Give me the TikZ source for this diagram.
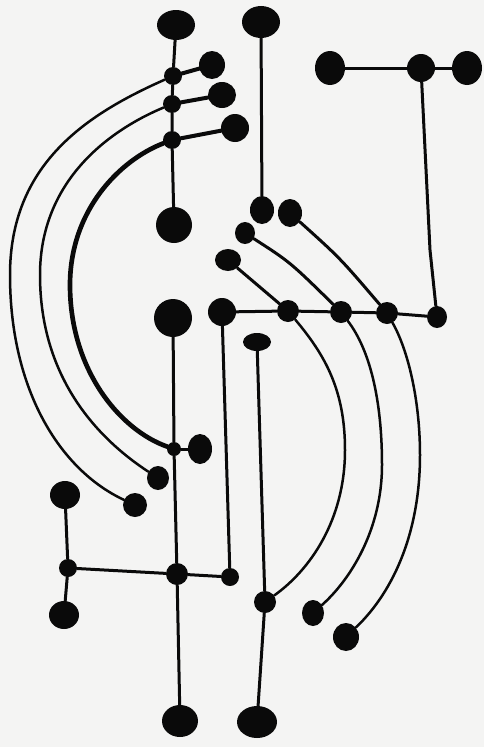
\documentclass[tikz,border=0pt]{standalone}
\usepackage{tikz}
\usetikzlibrary{shapes.geometric, calc}

\definecolor{paper}{HTML}{F4F4F3}
\definecolor{ink}{HTML}{0A0A0A}

\tikzset{
  blob/.style 2 args = {ellipse, fill=ink, draw=none, inner sep=0pt,
                        minimum width=#1mm, minimum height=#2mm},
  knot/.style  = {circle, fill=ink, draw=none, inner sep=0pt,
                  minimum size=#1mm},
  wire/.style  = {draw=ink, line width=0.9mm, line cap=round},
  stem/.style  = {draw=ink, line width=1.2mm, line cap=round},
  arc/.style   = {draw=ink, line width=0.75mm, line cap=round},
  arcb/.style  = {draw=ink, line width=1.4mm, line cap=round},
}

\begin{document}
\begin{tikzpicture}[x=0.3mm, y=-0.3mm]

% ────────────────────────────────────────────────────────────
%  Coordinates are in pixels of the 484 x 747 sheet,
%  origin top left, y running downwards.
% ────────────────────────────────────────────────────────────
\fill[paper] (0,0) rectangle (484,747);
\useasboundingbox (0,0) rectangle (484,747);

% ═══════════════════════════════════════════════════════════
%  TOP LEFT STEM  (x ~ 173)
% ═══════════════════════════════════════════════════════════
\node[blob={11.4}{9}]    (tl-top) at (176, 25)  {};
\node[knot=5.4]          (tl-j1)  at (173, 76)  {};
\node[knot=5.4]          (tl-j2)  at (172, 104) {};
\node[knot=5.4]          (tl-j3)  at (172, 140) {};
\node[blob={10.8}{10.8}] (tl-bot) at (174, 225) {};
\node[blob={7.8}{8.4}]   (tl-b1)  at (212, 65)  {};
\node[blob={8.4}{7.8}]   (tl-b2)  at (222, 95)  {};
\node[blob={8.4}{8.4}]   (tl-b3)  at (235, 128) {};

\draw[wire] (tl-top) -- (tl-j1) -- (tl-j2) -- (tl-j3) -- (tl-bot);
\draw[stem] (tl-j1) -- (tl-b1);
\draw[stem] (tl-j2) -- (tl-b2);
\draw[stem] (tl-j3) -- (tl-b3);

% ═══════════════════════════════════════════════════════════
%  SECOND STEM  (x ~ 260)  and the three loose blobs
% ═══════════════════════════════════════════════════════════
\node[blob={11.4}{9.6}] (st-top) at (261, 22)  {};
\node[blob={7.2}{8.4}]  (st-bot) at (262, 210) {};
\node[blob={7.2}{8.4}]  (lb-1)   at (290, 213) {};
\node[blob={6}{6.6}]    (lb-2)   at (245, 233) {};
\node[blob={7.8}{6.6}]  (lb-3)   at (228, 260) {};

\draw[wire] (st-top) -- (st-bot);

% ═══════════════════════════════════════════════════════════
%  TOP RIGHT BAR  and the long horizontal rail
% ═══════════════════════════════════════════════════════════
\node[blob={9}{10.2}]  (tr-l)   at (330, 68)  {};
\node[knot=8.4]        (tr-m)   at (421, 68)  {};
\node[blob={9}{10.2}]  (tr-r)   at (467, 68)  {};

\node[blob={8.4}{8.4}] (rl-0)   at (222, 312) {};
\node[knot=6.6]        (rl-k1)  at (288, 311) {};
\node[knot=6.6]        (rl-k2)  at (341, 312) {};
\node[knot=6.6]        (rl-k3)  at (387, 313) {};
\node[blob={6}{6.6}]   (rl-end) at (437, 317) {};

\draw[wire] (tr-l) -- (tr-m) -- (tr-r);
\draw[wire] (tr-m) -- (430, 250) -- (rl-end);
\draw[wire] (rl-0) -- (rl-k1) -- (rl-k2) -- (rl-k3) -- (rl-end);

% loose blobs down to the rail
\draw[wire] (lb-3) -- (rl-k1);
\draw[wire] (lb-2) .. controls (290, 262) .. (rl-k2);
\draw[wire] (lb-1) .. controls (340, 258) .. (rl-k3);

% ═══════════════════════════════════════════════════════════
%  LOWER STEMS
% ═══════════════════════════════════════════════════════════
\node[blob={11.4}{11.4}] (ls-top) at (173, 318) {};
\node[knot=4.2]          (ls-j1)  at (174, 449) {};
\node[blob={7.2}{9}]     (ls-b1)  at (200, 449) {};
\node[knot=6.6]          (ls-j2)  at (177, 574) {};
\node[blob={10.8}{9.6}]  (ls-bot) at (180, 721) {};

\node[knot=5.4]          (rl-foot) at (230, 577) {};

\node[blob={8.4}{5.4}]   (rs-top) at (257, 342) {};
\node[knot=6.6]          (rs-j)   at (265, 602) {};
\node[blob={12}{9.6}]    (rs-bot) at (257, 722) {};

\draw[wire] (ls-top) -- (ls-j1) -- (ls-j2) -- (ls-bot);
\draw[wire] (ls-j1) -- (ls-b1);
\draw[wire] (rl-0) -- (rl-foot);
\draw[wire] (rs-top) -- (rs-j) -- (rs-bot);

% ═══════════════════════════════════════════════════════════
%  BOTTOM LEFT BRACKET
% ═══════════════════════════════════════════════════════════
\node[blob={9}{8.4}] (bl-top) at (65, 495)  {};
\node[knot=5.4]      (bl-j)   at (68, 568)  {};
\node[blob={9}{8.4}] (bl-bot) at (64, 615)  {};

\draw[wire] (bl-top) -- (bl-j) -- (bl-bot);
\draw[wire] (bl-j) -- (ls-j2) -- (rl-foot);

% ═══════════════════════════════════════════════════════════
%  LEFT ARCS  (from the top left stem)
% ═══════════════════════════════════════════════════════════
\node[blob={6.6}{7.2}] (la-b2) at (158, 478) {};
\node[blob={7.2}{7.2}] (la-b1) at (135, 505) {};

\draw[arc]  (tl-j1) .. controls (85, 115) and (10, 165) .. (10, 275)
                    .. controls (10, 390) and (60, 470) .. (la-b1);
\draw[arc]  (tl-j2) .. controls (110, 130) and (40, 180) .. (40, 275)
                    .. controls (40, 380) and (100, 440) .. (la-b2);
\draw[arcb] (tl-j3) .. controls (120, 160) and (70, 210) .. (70, 285)
                    .. controls (70, 370) and (120, 430) .. (ls-j1);

% ═══════════════════════════════════════════════════════════
%  RIGHT ARCS  (from the rail knots)
% ═══════════════════════════════════════════════════════════
\node[blob={6.6}{7.8}] (ra-b2) at (313, 613) {};
\node[blob={7.8}{8.4}] (ra-b3) at (346, 637) {};

\draw[arc] (rl-k1) .. controls (325, 355) and (345, 390) .. (345, 450)
                   .. controls (345, 520) and (310, 570) .. (rs-j);
\draw[arc] (rl-k2) .. controls (370, 350) and (382, 400) .. (382, 465)
                   .. controls (382, 530) and (350, 580) .. (ra-b2);
\draw[arc] (rl-k3) .. controls (408, 350) and (420, 400) .. (420, 455)
                   .. controls (420, 530) and (395, 590) .. (ra-b3);

\end{tikzpicture}
\end{document}
